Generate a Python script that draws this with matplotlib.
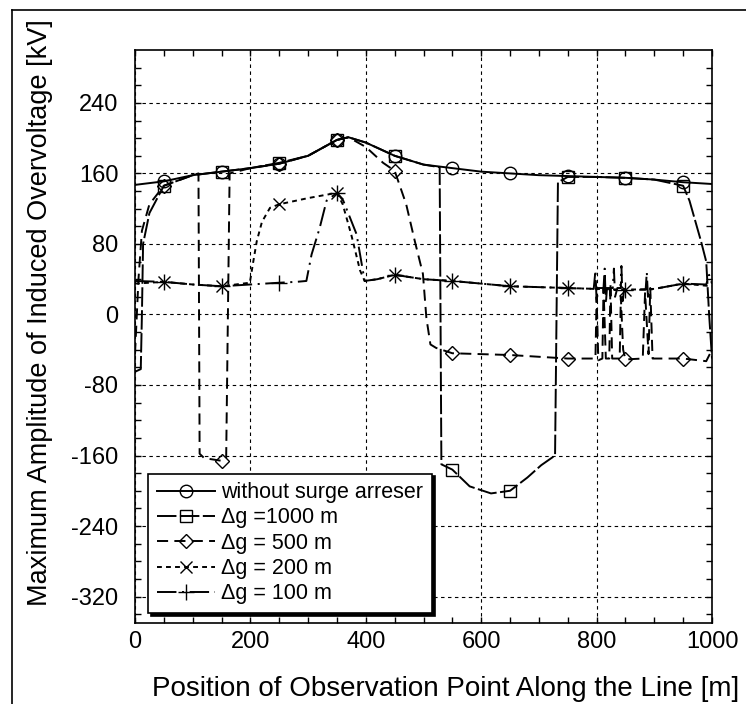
import matplotlib
matplotlib.use('Agg')
import matplotlib.pyplot as plt
from matplotlib.lines import Line2D

plt.rcParams['font.family'] = ['Liberation Sans', 'DejaVu Sans']
plt.rcParams['axes.unicode_minus'] = False
plt.rcParams['lines.scale_dashes'] = False

# observation points carrying a marker
MARK_X = [50, 150, 250, 350, 450, 550, 650, 750, 850, 950]

# without surge arrester
free_x = [0, 50, 100, 150, 200, 250, 300, 350, 370, 400, 450, 500, 550, 600, 650,
          700, 750, 800, 850, 900, 950, 1000]
free_y = [147, 151, 158, 162, 166, 171, 180, 198, 201, 195, 180, 170, 166, 162, 160,
          158, 157, 156, 155, 153, 150, 148]

# arresters every 1000 m
g1000_x = [0, 10, 12, 14, 25, 50, 100, 150, 200, 250, 300, 350, 370, 400, 450, 500,
           528, 531, 550, 580, 617, 650, 680, 704, 728, 733, 750, 800, 850, 900, 950,
           961, 981, 990, 995, 1000]
g1000_y = [-65, -62, 0, 80, 115, 146, 158, 162, 166, 172, 180, 198, 201, 195, 180, 170,
           167, -170, -176, -195, -203, -200, -185, -171, -160, 150, 156, 156, 155, 153, 146,
           129, 83, 60, 0, -50]

# arresters every 500 m
g500_x = [0, 6, 12, 25, 50, 100, 110, 112, 120, 150, 158, 164, 200, 250, 300, 350, 370,
          400, 430, 450, 470, 485, 499, 505, 512, 522, 550, 600, 650, 700, 750, 790, 798,
          800, 803, 810, 812, 816, 822, 824, 827, 840, 842, 846, 850, 880, 884, 890, 893,
          897, 950, 990, 1000]
g500_y = [-45, 40, 95, 125, 146, 158, 160, -158, -163, -166, -163, 160, 166, 171, 180, 198, 201,
          190, 172, 163, 125, 83, 46, -4, -34, -38, -44, -45, -46, -48, -50, -50, -50,
          20, -52, -50, 30, -50, -50, 35, -50, -50, 20, -40, -51, -50, 25, -45, 30,
          -50, -50, -53, -40]

# arresters every 200 m
g200_x = [0, 50, 100, 150, 199, 205, 211, 220, 234, 250, 300, 350, 360, 375, 390, 398,
          420, 450, 500, 550, 600, 650, 700, 750, 800, 850, 900, 950, 1000]
g200_y = [35, 37, 34, 32, 36, 60, 83, 105, 121, 125, 132, 138, 125, 90, 50, 38,
          40, 45, 40, 38, 35, 32, 31, 30, 29, 28, 29, 35, 32]

# arresters every 100 m
g100_x = [0, 50, 100, 150, 200, 250, 280, 297, 306, 320, 332, 350, 361, 384, 398, 420,
          450, 500, 550, 600, 650, 700, 750, 795, 798, 800, 803, 812, 814, 816, 818, 828,
          830, 832, 836, 842, 843, 845, 848, 850, 885, 887, 889, 891, 900, 950, 990, 995,
          1000]
g100_y = [38, 37, 34, 32, 34, 36, 37, 38, 68, 98, 129, 138, 129, 91, 38, 40,
          45, 40, 38, 35, 32, 31, 30, 29, 50, 15, 30, 30, 52, 12, 30, 30,
          52, 20, 30, 30, 55, 15, 29, 28, 28, 48, 20, 28, 29, 35, 34, 45,
          35]

labels = ['without surge arreser', '\u0394g =1000 m', '\u0394g = 500 m',
          '\u0394g = 200 m', '\u0394g = 100 m']


def marks(xs):
    return [i for i, x in enumerate(xs) if x in MARK_X]


fig = plt.figure(figsize=(7.46, 7.04), dpi=100)
ax = fig.add_axes([135 / 746, 1 - 623 / 704, 577 / 746, 573 / 704])

series = [
    (free_x, free_y, '-', 'o', 9),
    (g1000_x, g1000_y, (0, (14, 2.5)), 's', 9),
    (g500_x, g500_y, (0, (8, 4.5)), 'D', 7),
    (g200_x, g200_y, (0, (3.5, 3)), 'x', 9),
    (g100_x, g100_y, (0, (14, 4, 1.5, 4)), '+', 11),
]
for (xs, ys, ls, mk, ms), lab in zip(series, labels):
    ax.plot(xs, ys, color='black', lw=1.4, ls=ls, marker=mk, ms=ms,
            mfc='none', mec='black', mew=1.0, markevery=marks(xs), label=lab)

ax.set_xlim(0, 1000)
ax.set_ylim(-350, 300)
ax.set_xticks(range(0, 1001, 200))
ax.set_xticks(range(0, 1001, 50), minor=True)
ax.set_yticks(range(-320, 241, 80))
ax.set_yticks(range(-340, 300, 20), minor=True)
ax.tick_params(which='both', direction='in', top=True, right=True, length=4, width=1)
ax.tick_params(axis='x', labelsize=17, pad=6)
ax.tick_params(axis='y', labelsize=17, pad=12)
ax.grid(True, which='major', color='black', lw=0.8, ls=(0, (2.5, 2.5)))
for sp in ax.spines.values():
    sp.set_linewidth(1.2)

leg = ax.legend(loc='lower left', bbox_to_anchor=(0.0225, 0.0175), borderaxespad=0,
                fontsize=15.5, frameon=True, fancybox=False, edgecolor='black',
                framealpha=1, handlelength=2.7, handletextpad=0.3, labelspacing=0.2,
                borderpad=0.4,
                shadow={'color': 'black', 'alpha': 1.0})
leg.get_frame().set_linewidth(1.2)

fig.text(40 / 746, 1 - 313 / 704, 'Maximum Amplitude of Induced Overvoltage [kV]',
         rotation=90, ha='center', va='center', fontsize=19.5)
fig.text(446 / 746, 1 - 689 / 704, 'Position of Observation Point Along the Line [m]',
         ha='center', va='center', fontsize=20)

# outer page frame
fig.add_artist(Line2D([12 / 746, 12 / 746], [0, 1 - 10 / 704], color='black', lw=1.2))
fig.add_artist(Line2D([12 / 746, 1], [1 - 10 / 704, 1 - 10 / 704], color='black', lw=1.2))

fig.savefig('out.png', dpi=100)
